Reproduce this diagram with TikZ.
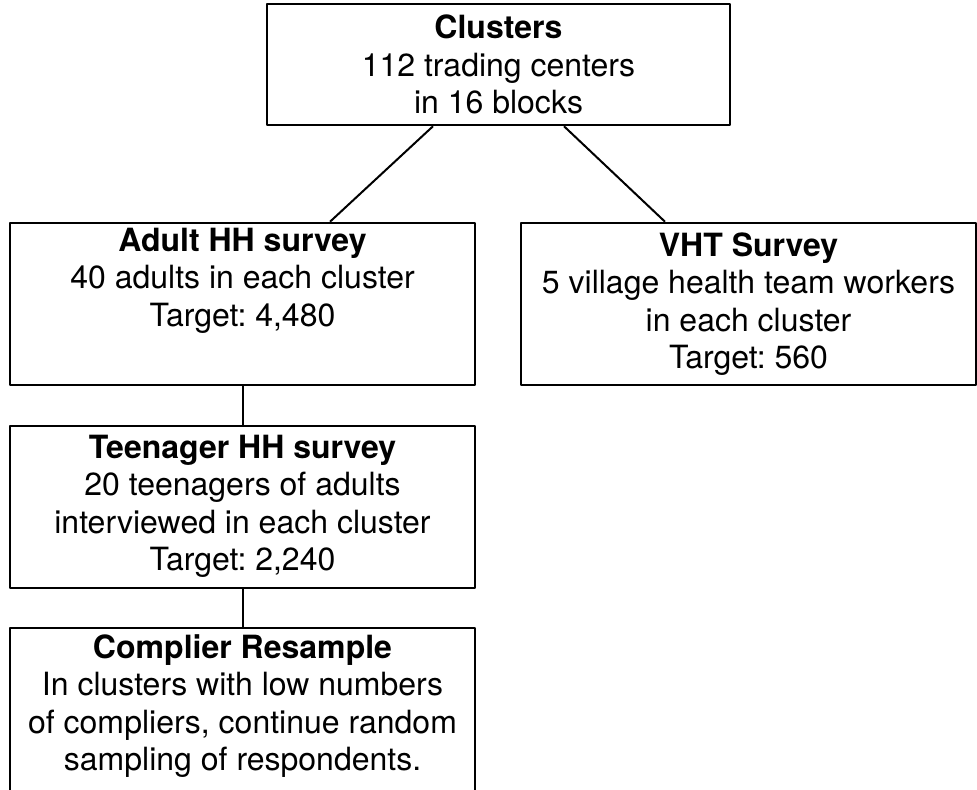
\documentclass[tikz,border=0pt]{standalone}
\usepackage{fontspec}
\setmainfont{TeX Gyre Heros}
\frenchspacing
\begin{document}
\begin{tikzpicture}[line join=bevel,
  box/.style={draw,line width=2.5bp,align=center,inner sep=0pt,
    font=\fontsize{32bp}{37.5bp}\selectfont},
  link/.style={black,line width=2bp}]
%%
\clip (0bp,0bp) rectangle (977bp,790bp);
\node (clusters) at (498.5bp,725.5bp) [box,minimum width=463bp,minimum height=121bp] {\textbf{Clusters}\\112 trading centers\\in 16 blocks};
  \node (adult) at (242.5bp,486bp) [box,minimum width=465bp,minimum height=162bp] {\textbf{Adult HH survey}\\40 adults in each cluster\\Target: 4,480\\[16bp] \mbox{}};
  \node (vht) at (748.5bp,486bp) [box,minimum width=455bp,minimum height=162bp] {\textbf{VHT Survey}\\5 village health team workers\\in each cluster\\Target: 560};
  \node (teen) at (242.5bp,283bp) [box,minimum width=465bp,minimum height=162bp] {\textbf{Teenager HH survey}\\20 teenagers of adults\\interviewed in each cluster\\Target: 2,240\\[-29.5bp] \mbox{}};
  \node (complier) at (242.5bp,80bp) [box,minimum width=465bp,minimum height=164bp] {\textbf{Complier Resample}\\In clusters with low numbers\\of compliers, continue random\\sampling of respondents.\\[-23bp] \mbox{}};
  \draw [link] ([xshift=-65.5bp]clusters.south) -- ([xshift=87.5bp]adult.north);
  \draw [link] ([xshift=65.5bp]clusters.south) -- ([xshift=-83.5bp]vht.north);
  \draw [link] (adult) -- (teen);
  \draw [link] (teen) -- (complier);
%
\end{tikzpicture}
\end{document}
